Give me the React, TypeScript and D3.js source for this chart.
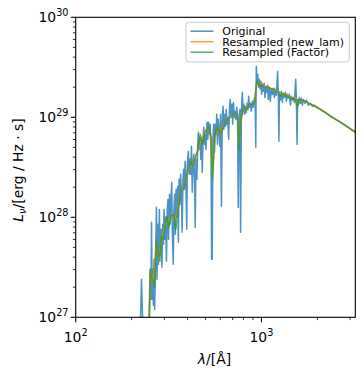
import React from 'react'
import * as d3 from 'd3'

// Original spectrum (wavelength in Angstrom, L_nu in erg / Hz / s)
const lamOrig = [
  222, 226, 231, 247, 250, 252, 254, 256, 258, 260,
  262, 264, 266, 269, 272, 274, 277, 279, 282, 285,
  288, 291, 294, 297, 299, 302, 305, 308, 311, 314,
  316, 320, 322, 325, 329, 331, 335, 338, 341, 344,
  347, 351, 354, 357, 360, 364, 367, 371, 374, 378,
  381, 385, 388, 392, 396, 399, 404, 408, 412, 416,
  420, 424, 428, 432, 436, 440, 444, 449, 454, 458,
  462, 467, 471, 475, 480, 485, 489, 494, 498, 503,
  509, 514, 519, 525, 530, 535, 539, 543, 548, 553,
  559, 564, 570, 574, 580, 585, 591, 597, 602, 609,
  615, 621, 627, 633, 640, 646, 653, 659, 666, 673,
  679, 686, 693, 700, 707, 714, 721, 728, 736, 743,
  750, 758, 766, 772, 780, 789, 796, 804, 812, 820,
  829, 837, 846, 853, 862, 871, 882, 893, 904, 915,
  924, 932, 938, 946, 955, 964, 974, 984, 994, 1003,
  1013, 1023, 1034, 1044, 1054, 1065, 1076, 1089, 1103, 1116,
  1130, 1144, 1159, 1173, 1188, 1203, 1222, 1233, 1241, 1251,
  1264, 1280, 1296, 1312, 1328, 1345, 1362, 1379, 1396, 1414,
  1431, 1449, 1467, 1486, 1504, 1529, 1542, 1554, 1566, 1581,
  1600, 1620, 1641, 1661, 1682, 1714, 1746, 1790, 1835, 1881,
  1928, 1977, 2077, 2212, 2357, 2675, 3036, 3300,
]
const lumOrig = [
  6.0e26, 2.40e27, 6.0e26, 6.0e26, 1.91e27, 3.02e27, 1.51e27, 8.91e27, 1.51e27, 3.02e27,
  1.32e27, 3.80e27, 1.20e27, 3.63e27, 1.26e28, 2.40e27, 8.51e27, 3.39e27, 1.20e28, 4.27e27,
  7.59e27, 3.16e27, 8.51e27, 5.37e27, 1.20e28, 6.03e27, 1.00e28, 3.63e27, 1.20e28, 1.51e28,
  6.03e27, 1.70e28, 8.51e27, 1.35e28, 2.24e28, 7.59e27, 3.39e27, 1.20e28, 1.70e28, 6.76e27,
  1.91e28, 1.00e28, 2.04e28, 5.62e27, 2.40e28, 1.35e28, 2.69e28, 1.70e28, 7.08e27, 2.40e28,
  3.02e28, 1.91e28, 3.63e28, 2.14e28, 7.59e27, 3.39e28, 4.57e28, 2.69e28, 3.80e28, 2.69e28,
  5.13e28, 1.78e28, 3.39e28, 4.27e28, 2.40e28, 7.94e27, 3.80e28, 2.40e28, 5.37e28, 7.08e28,
  4.79e28, 6.31e28, 3.80e28, 6.03e28, 2.82e28, 6.03e28, 7.94e28, 5.37e28, 6.76e28, 4.79e28,
  8.91e28, 6.03e28, 8.91e28, 6.76e28, 8.51e28, 4.79e28, 3.80e27, 3.80e27, 6.03e28, 8.51e28,
  4.47e28, 8.51e28, 6.76e28, 1.07e29, 5.37e28, 9.55e28, 7.59e28, 5.13e28, 1.07e29, 1.29e28,
  9.55e28, 1.29e29, 7.59e28, 1.07e29, 8.13e28, 1.20e29, 8.51e28, 1.00e29, 6.03e28, 1.26e29,
  1.51e29, 1.02e29, 1.35e29, 8.51e28, 1.41e29, 1.00e29, 1.15e29, 9.55e28, 1.26e29, 1.07e29,
  1.26e28, 1.00e29, 1.20e29, 7.08e27, 1.15e29, 1.78e29, 1.15e29, 1.35e29, 1.07e29, 1.29e29,
  1.12e29, 1.38e29, 1.20e29, 1.62e29, 1.26e29, 1.38e29, 1.15e29, 1.45e29, 1.26e29, 1.51e29,
  1.58e29, 5.01e28, 3.24e29, 2.14e29, 2.69e29, 2.00e29, 2.40e29, 1.91e29, 2.29e29, 1.70e29,
  2.14e29, 1.82e29, 2.19e29, 1.58e29, 2.00e29, 1.78e29, 2.09e29, 1.51e29, 2.00e29, 1.45e29,
  1.91e29, 1.70e29, 1.95e29, 1.58e29, 1.82e29, 1.66e29, 2.88e29, 1.70e29, 5.75e28, 1.78e29,
  1.48e29, 1.82e29, 1.41e29, 1.74e29, 1.58e29, 1.78e29, 1.45e29, 1.70e29, 1.55e29, 1.70e29,
  1.32e29, 1.62e29, 1.48e29, 1.58e29, 1.41e29, 2.40e29, 1.51e29, 5.37e28, 1.51e29, 1.32e29,
  1.58e29, 1.38e29, 1.55e29, 1.32e29, 1.51e29, 1.38e29, 1.48e29, 1.32e29, 1.38e29, 1.29e29,
  1.32e29, 1.26e29, 1.20e29, 1.12e29, 1.02e29, 8.91e28, 7.59e28, 6.85e28,
]

// Resampled onto a new wavelength grid
const lamNewLam = [
  248, 253, 261, 271, 281, 292, 303, 314, 326, 339,
  352, 365, 379, 393, 408, 424, 440, 457, 474, 492,
  511, 530, 544, 560, 585, 607, 631, 663, 697, 728,
  750, 760, 773, 808, 850, 893, 921, 944, 974, 1011,
  1049, 1089, 1130, 1173, 1218, 1264, 1312, 1362, 1414, 1467,
  1523, 1561, 1620, 1725, 1835, 2000, 2158, 2400, 2740, 3110,
  3340,
]
const lumNewLam = [
  6.0e26, 2.88e27, 2.19e27, 5.37e27, 3.98e27, 6.31e27, 8.32e27, 9.12e27, 1.02e28, 9.55e27,
  1.10e28, 1.70e28, 2.00e28, 2.51e28, 3.16e28, 3.39e28, 3.80e28, 4.79e28, 6.03e28, 6.92e28,
  7.94e28, 6.92e28, 2.69e28, 6.03e28, 7.76e28, 7.24e28, 8.71e28, 9.55e28, 1.05e29, 1.07e29,
  8.71e28, 5.37e28, 9.33e28, 1.23e29, 1.29e29, 1.38e29, 1.51e29, 2.24e29, 2.19e29, 2.19e29,
  2.00e29, 2.04e29, 1.91e29, 1.95e29, 1.82e29, 1.78e29, 1.70e29, 1.70e29, 1.62e29, 1.58e29,
  1.55e29, 1.38e29, 1.48e29, 1.45e29, 1.35e29, 1.26e29, 1.15e29, 1.00e29, 8.71e28, 7.41e28,
  6.76e28,
]

// Resampled by a factor
const lamFactor = [
  248, 252, 256, 261, 266, 272, 278, 284, 289, 296,
  302, 308, 317, 327, 336, 346, 356, 368, 379, 394,
  403, 416, 430, 440, 452, 468, 481, 498, 519, 536,
  544, 553, 559, 576, 593, 611, 638, 661, 694, 723,
  747, 760, 771, 801, 834, 860, 896, 919, 942, 986,
  1027, 1072, 1116, 1163, 1203, 1237, 1264, 1296, 1371, 1431,
  1523, 1556, 1590, 1725, 1835, 1993, 2140, 2357, 2675, 3036,
  3340,
]
const lumFactor = [
  6.0e26, 3.02e27, 2.51e27, 2.29e27, 2.00e27, 6.03e27, 4.57e27, 3.63e27, 6.46e27, 6.03e27,
  7.59e27, 1.02e28, 7.94e27, 1.05e28, 1.07e28, 7.59e27, 1.20e28, 1.82e28, 1.91e28, 2.57e28,
  3.02e28, 3.55e28, 3.24e28, 3.98e28, 4.57e28, 6.76e28, 5.37e28, 7.24e28, 8.13e28, 6.31e28,
  2.34e28, 3.80e28, 6.31e28, 7.94e28, 7.24e28, 7.08e28, 8.91e28, 9.55e28, 1.03e29, 1.10e29,
  9.33e28, 4.79e28, 9.12e28, 1.26e29, 1.20e29, 1.35e29, 1.35e29, 1.45e29, 2.29e29, 2.09e29,
  2.04e29, 2.00e29, 1.95e29, 1.91e29, 1.82e29, 1.78e29, 1.62e29, 1.74e29, 1.62e29, 1.58e29,
  1.51e29, 1.26e29, 1.51e29, 1.45e29, 1.35e29, 1.26e29, 1.15e29, 1.03e29, 8.85e28, 7.59e28,
  6.76e28,
]

const seriesNames = ['Original', 'Resampled (new_lam)', 'Resampled (Factor)']
const xDomain = [100, 3200]
const yDomain = [1e27, 1e30]

const W = 364
const H = 379
const plot = { left: 75.7, right: 355.3, top: 17.3, bottom: 317.3 }
const font = 'DejaVu Sans'

const isMajor = (v: number) => Math.abs(Math.log10(v) - Math.round(Math.log10(v))) < 1e-6

export default function App() {
  const x = d3.scaleLog().domain(xDomain).range([plot.left, plot.right])
  const y = d3.scaleLog().domain(yDomain).range([plot.bottom, plot.top])

  const line = d3
    .line<[number, number]>()
    .x((d) => x(d[0]))
    .y((d) => y(d[1]))

  const pairs = (lam: number[], lum: number[]) =>
    lam.slice(0, Math.min(lam.length, lum.length)).map((l, i) => [l, lum[i]] as [number, number])

  // drawing order: original, new_lam, factor (legend order too)
  const series = [
    { name: seriesNames[0], data: pairs(lamOrig, lumOrig), color: '#1f77b4' },
    { name: seriesNames[1], data: pairs(lamNewLam, lumNewLam), color: '#ff7f0e' },
    { name: seriesNames[2], data: pairs(lamFactor, lumFactor), color: '#2ca02c' },
  ]

  const xTicks = x.ticks()
  const yTicks = y.ticks()

  const legend = { x: 186, y: 22.3, w: 163.3, h: 39.6 }
  const rowY = [31.2, 41.7, 52.2]

  return (
    <svg
      width={W}
      height={H}
      style={{ position: 'absolute', left: 0, top: 0, background: '#fff' }}
      fontFamily={font}
    >
      <defs>
        <clipPath id="plot-clip">
          <rect x={plot.left} y={plot.top} width={plot.right - plot.left} height={plot.bottom - plot.top} />
        </clipPath>
      </defs>

      <g clipPath="url(#plot-clip)" fill="none">
        {series.map((s) => (
          <path
            key={s.name}
            d={line(s.data) || ''}
            stroke={s.color}
            strokeWidth={1.5}
            strokeOpacity={0.8}
            strokeLinejoin="round"
          />
        ))}
      </g>

      {/* frame */}
      <rect
        x={plot.left}
        y={plot.top}
        width={plot.right - plot.left}
        height={plot.bottom - plot.top}
        fill="none"
        stroke="#000"
        strokeWidth={1.1}
      />

      {/* x ticks */}
      {xTicks.map((v) => {
        const major = isMajor(v)
        const px = x(v)
        return (
          <g key={'x' + v}>
            <line
              x1={px}
              x2={px}
              y1={plot.bottom}
              y2={plot.bottom + (major ? 4.9 : 2.8)}
              stroke="#000"
              strokeWidth={major ? 1.1 : 0.8}
            />
            {major && (
              <text x={px} y={342} textAnchor="middle" fontSize={13.9}>
                10
                <tspan fontSize={9.7} dy={-6.5}>
                  {Math.round(Math.log10(v))}
                </tspan>
              </text>
            )}
          </g>
        )
      })}

      {/* y ticks */}
      {yTicks.map((v) => {
        const major = isMajor(v)
        const py = y(v)
        return (
          <g key={'y' + v}>
            <line
              x1={plot.left - (major ? 4.9 : 2.8)}
              x2={plot.left}
              y1={py}
              y2={py}
              stroke="#000"
              strokeWidth={major ? 1.1 : 0.8}
            />
            {major && (
              <text x={68.5} y={py + 5} textAnchor="end" fontSize={13.9}>
                10
                <tspan fontSize={9.7} dy={-6.5}>
                  {Math.round(Math.log10(v))}
                </tspan>
              </text>
            )}
          </g>
        )
      })}

      {/* axis labels */}
      <text x={214.5} y={364} textAnchor="middle" fontSize={13.9}>
        <tspan fontStyle="italic">λ</tspan>/[Å]
      </text>
      <text transform="translate(23,170) rotate(-90)" textAnchor="middle" fontSize={13.9}>
        <tspan fontStyle="italic">L</tspan>
        <tspan fontStyle="italic" fontSize={9.7} dy={3}>
          ν
        </tspan>
        <tspan dy={-3}>/[erg / Hz · s]</tspan>
      </text>

      {/* legend */}
      <rect
        x={legend.x}
        y={legend.y}
        width={legend.w}
        height={legend.h}
        rx={2.5}
        fill="#fff"
        fillOpacity={0.8}
        stroke="#cccccc"
        strokeWidth={1}
      />
      {series.map((s, i) => (
        <g key={'leg' + s.name}>
          <line
            x1={190.5}
            x2={213.5}
            y1={rowY[i]}
            y2={rowY[i]}
            stroke={s.color}
            strokeWidth={1.5}
            strokeOpacity={0.8}
          />
          <text x={222.3} y={rowY[i] + 4} fontSize={11}>
            {s.name}
          </text>
        </g>
      ))}
    </svg>
  )
}
